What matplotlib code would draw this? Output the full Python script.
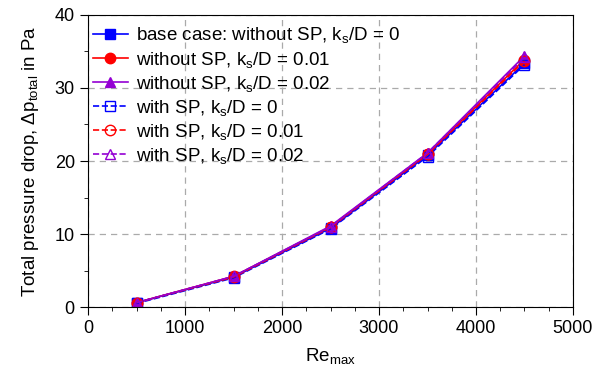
import matplotlib
matplotlib.use("Agg")
import matplotlib.pyplot as plt
from matplotlib.ticker import MultipleLocator

plt.rcParams['font.family'] = ['Liberation Sans', 'DejaVu Sans']
plt.rcParams['mathtext.fontset'] = 'custom'
plt.rcParams['mathtext.rm'] = 'Liberation Sans'
plt.rcParams['mathtext.it'] = 'Liberation Sans'

# data
re_max = [500, 1500, 2500, 3500, 4500]
dp_base = [0.6, 4.1, 10.8, 20.8, 33.4]
dp_noSP_001 = [0.6, 4.2, 11.0, 21.0, 33.9]
dp_noSP_002 = [0.6, 4.2, 11.1, 21.1, 34.4]
dp_SP_0 = [0.5, 4.0, 10.7, 20.6, 33.2]
dp_SP_001 = [0.6, 4.1, 10.9, 20.9, 33.7]
dp_SP_002 = [0.6, 4.2, 11.0, 21.1, 34.2]

labels = ['base case: without SP, k$_\\mathregular{s}$/D = 0',
          'without SP, k$_\\mathregular{s}$/D = 0.01',
          'without SP, k$_\\mathregular{s}$/D = 0.02',
          'with SP, k$_\\mathregular{s}$/D = 0',
          'with SP, k$_\\mathregular{s}$/D = 0.01',
          'with SP, k$_\\mathregular{s}$/D = 0.02']

purple = '#9400D3'
fig = plt.figure(figsize=(5.95, 3.74), dpi=100)
ax = fig.add_axes([0.148, 0.179, 0.815, 0.781])

ax.plot(re_max, dp_base, '-', color='blue', marker='s', ms=6.5, lw=1.2, label=labels[0])
ax.plot(re_max, dp_noSP_001, '-', color='red', marker='o', ms=7.5, lw=1.2, label=labels[1])
ax.plot(re_max, dp_noSP_002, '-', color=purple, marker='^', ms=6.5, lw=1.2, label=labels[2])
ax.plot(re_max, dp_SP_0, '--', color='blue', marker='s', ms=6.5, mfc='none', lw=1.2, label=labels[3])
ax.plot(re_max, dp_SP_001, '--', color='red', marker='o', ms=7.5, mfc='none', lw=1.2, label=labels[4])
ax.plot(re_max, dp_SP_002, '--', color=purple, marker='^', ms=6.5, mfc='none', lw=1.2, label=labels[5])

ax.set_xlim(0, 5000)
ax.set_ylim(0, 40)
ax.xaxis.set_major_locator(MultipleLocator(1000))
ax.xaxis.set_minor_locator(MultipleLocator(250))
ax.yaxis.set_major_locator(MultipleLocator(10))
ax.yaxis.set_minor_locator(MultipleLocator(5))
ax.tick_params(which='both', direction='out', top=False, right=False, labelsize=13)
ax.tick_params(which='major', length=6)
ax.tick_params(which='minor', length=3)
ax.grid(True, which='major', ls=(0, (5, 4)), color='#aaaaaa', lw=0.9)

ax.set_xlabel('Re$_\\mathregular{max}$', fontsize=13.5, labelpad=6)
ax.set_ylabel('Total pressure drop, \u0394p$_\\mathregular{total}$ in Pa', fontsize=13.5, labelpad=10)

ax.legend(loc='upper left', bbox_to_anchor=(-0.006, 0.99), frameon=False, fontsize=13.5,
          handlelength=1.9, labelspacing=0.22, borderaxespad=0.2, handletextpad=0.4, borderpad=0.2)

fig.savefig('out.png', dpi=100)
